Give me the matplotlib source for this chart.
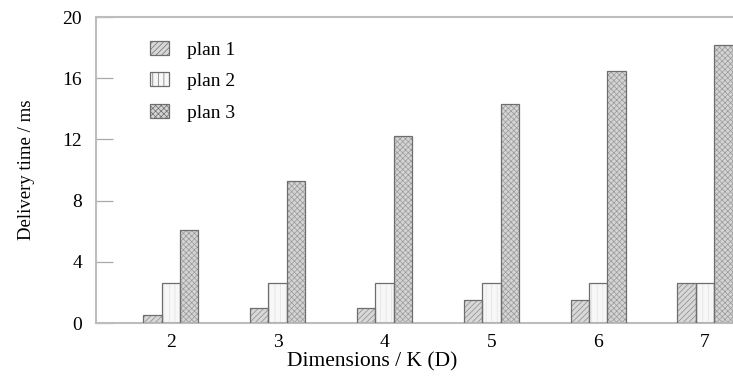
import numpy as np
import matplotlib.pyplot as plt

plt.rcParams['font.family'] = ['Liberation Serif', 'DejaVu Serif']
plt.rcParams['hatch.linewidth'] = 0.5

dims = [2, 3, 4, 5, 6, 7]
plan1 = [0.5, 1.0, 1.0, 1.5, 1.5, 2.6]
plan2 = [2.6, 2.6, 2.6, 2.6, 2.6, 2.6]
plan3 = [6.1, 9.3, 12.2, 14.3, 16.5, 18.2]

series = [
    ('plan 1', plan1, '#d8d8d8', '#8a8a8a', '//////'),
    ('plan 2', plan2, '#f7f7f7', '#e2e2e2', '|||'),
    ('plan 3', plan3, '#d4d4d4', '#9a9a9a', 'xxxxxx'),
]

fig = plt.figure(figsize=(7.33, 3.81), dpi=100)
ax = fig.add_axes([96 / 733, 58 / 381, 1 - 96 / 733 + 0.01, 306 / 381])

x = np.array(dims, dtype=float)
width = 0.172
edge = '#6e6e6e'

handles = []
for i, (name, vals, face, hcol, hatch) in enumerate(series):
    pos = x + (i - 1) * width
    # fill + hatch first, then a plain outline on top
    ax.bar(pos, vals, width, color=face, edgecolor=hcol, hatch=hatch,
           linewidth=0, zorder=2)
    ax.bar(pos, vals, width, fill=False, edgecolor=edge, linewidth=0.9,
           zorder=3)
    handles.append(plt.Rectangle((0, 0), 1, 1, facecolor=face,
                                 edgecolor=edge, hatch=hatch, linewidth=0.9))

ax.set_xlim(1.30, 7.33)
ax.set_ylim(0, 20)
ax.set_xticks(dims)
ax.set_xticklabels([str(d) for d in dims])
ax.set_yticks([0, 4, 8, 12, 16, 20])

ax.tick_params(axis='x', length=0, labelsize=14, pad=8)
ax.tick_params(axis='y', direction='in', length=12, width=0.9,
               color='#aaaaaa', labelsize=14, pad=10)

for side in ['left', 'bottom', 'top']:
    ax.spines[side].set_color('#bdbdbd')
    ax.spines[side].set_linewidth(1.5)
ax.spines['right'].set_visible(False)

ax.set_ylabel('Delivery time / ms', fontsize=13.5)
ax.yaxis.set_label_coords(-0.094, 0.5)
ax.set_xlabel('Dimensions / K (D)', fontsize=15.5)
ax.xaxis.set_label_coords((369 - 96) / (733 - 96), -0.095)

leg = ax.legend(handles, [s[0] for s in series], loc='upper left',
                bbox_to_anchor=(0.056, 0.98), frameon=False, fontsize=14,
                handlelength=1.0, handleheight=0.75, handletextpad=0.95,
                labelspacing=0.7)

fig.savefig('out.png', dpi=100)
